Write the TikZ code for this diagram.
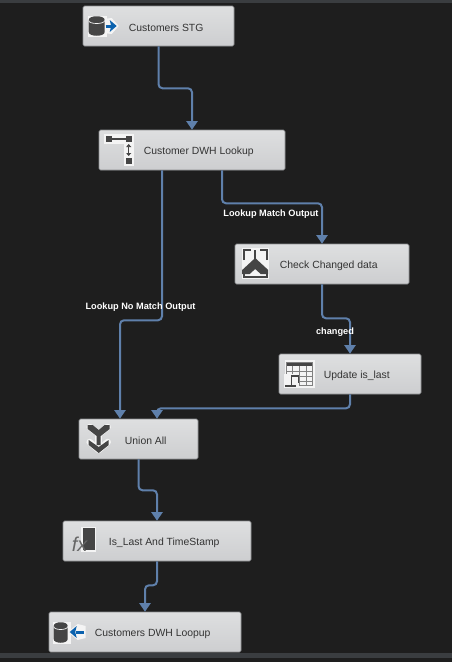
\documentclass[tikz,border=0pt]{standalone}
\usepackage{fontspec}
\setmainfont{Liberation Sans}
\usetikzlibrary{calc,positioning,arrows.meta}
\definecolor{panelbg}{HTML}{1E1E1E}
\definecolor{panelbar}{HTML}{3A3D40}
\definecolor{boxedge}{HTML}{8C8E90}
\definecolor{boxtop}{HTML}{DEDFE0}
\definecolor{boxbottom}{HTML}{CDCED0}
\definecolor{flowblue}{HTML}{5F80AB}
\definecolor{icondark}{HTML}{454545}
\definecolor{iconblue}{HTML}{0B62AE}
\definecolor{iconhalo}{HTML}{F4F4F4}
\tikzset{
  compbox/.style={draw=boxedge, line width=0.6pt, rounded corners=1.5pt, top color=boxtop, bottom color=boxbottom, minimum height=40pt, inner sep=0pt},
  boxtext/.style={inner sep=0pt, yshift=-1.5pt, text=black!80, font=\fontsize{10.4pt}{12pt}\selectfont},
  flow/.style={draw=flowblue, line width=2pt, rounded corners=4pt, -{Triangle[length=8.5pt,width=11pt]}},
  flowlabel/.style={inner sep=0pt, text=white, font=\fontsize{9.2pt}{11pt}\selectfont\bfseries},
}
\begin{document}
\begin{tikzpicture}[x=1pt,y=-1pt]
\useasboundingbox (0,0) rectangle (452,662);
\fill[panelbg] (0,0) rectangle (452,662);
\fill[panelbar] (0,0) rectangle (452,3);
\fill[panelbar] (0,653) rectangle (452,658);
% boxes
\node[compbox, minimum width=151pt] (stg) at (158.5,26) {};
\node[compbox, minimum width=186pt] (lookup) at (192,150) {};
\node[compbox, minimum width=174pt] (check) at (322,264) {};
\node[compbox, minimum width=142pt] (update) at (350,374) {};
\node[compbox, minimum width=119pt] (union) at (138.5,439) {};
\node[compbox, minimum width=188pt] (stamp) at (157,541) {};
\node[compbox, minimum width=192pt] (dwh) at (145,632) {};
% box texts
\node[boxtext, right=46pt of stg.west] (stgtext) {Customers STG};
\node[boxtext, right=45pt of lookup.west] (lookuptext) {Customer DWH Lookup};
\node[boxtext, right=45pt of check.west] (checktext) {Check Changed data};
\node[boxtext, right=45pt of update.west] (updatetext) {Update is\_last};
\node[boxtext, right=46pt of union.west] (uniontext) {Union All};
\node[boxtext, right=46pt of stamp.west] (stamptext) {Is\_Last And TimeStamp};
\node[boxtext, right=46pt of dwh.west] (dwhtext) {Customers DWH Loopup};
% connectors
\draw[flow] (stg.south) -- ++(0,42) -| (lookup.north);
\draw[flow] ($(lookup.south)+(-30,0)$) -- ++(0,150) -| ($(union.north)+(-18.5,0)$);
\draw[flow] ($(lookup.south)+(30,0)$) -- ++(0,33) -| (check.north);
\draw[flow] (check.south) -- ++(0,34) -| (update.north);
\draw[flow] (update.south) -- ++(0,14) -| ($(union.north)+(18.5,0)$);
\draw[flow] (union.south) -- ++(0,31) -| (stamp.north);
\draw[flow] (stamp.south) -- ++(0,24) -| (dwh.north);
% connector labels
\node[flowlabel] (matchlabel) at (271,214) {Lookup Match Output};
\node[flowlabel] (nomatchlabel) at (140.5,307) {Lookup No Match Output};
\node[flowlabel] (changedlabel) at (335,332) {changed};
% source icon
\begin{scope}[shift={(stg.west)}]
\fill[iconhalo] (5,-10.5) rectangle (24,10.5);
\fill[iconhalo] (21,-7) -- (29,-8) -- (36,0) -- (29,8) -- (21,7) -- cycle;
\fill[icondark] (6,-6) .. controls (6,-11) and (22,-11) .. (22,-6) -- (22,6) .. controls (22,11) and (6,11) .. (6,6) -- cycle;
\draw[iconhalo, line width=0.7pt] (6,-5.5) .. controls (6,-1.5) and (22,-1.5) .. (22,-5.5);
\draw[iconblue, line width=3pt] (23,0) -- (30,0);
\fill[iconblue] (27,-6) -- (34,0) -- (27,6) -- (28.5,0) -- cycle;
\end{scope}
% lookup icon
\begin{scope}[shift={(lookup.west)}]
\fill[iconhalo] (5,-16) rectangle (35,-6);
\fill[iconhalo] (25,-16) rectangle (35,16);
\draw[icondark, line width=1.2pt] (10,-11) -- (30,-11);
\fill[icondark] (7,-14) rectangle (13,-8);
\fill[icondark] (27,-14) rectangle (33,-8);
\fill[icondark] (27,8) rectangle (33,14);
\draw[icondark, line width=1pt, {Triangle[length=3pt,width=5pt]}-{Triangle[length=3pt,width=5pt]}] (30,-6) -- (30,6);
\end{scope}
% split icon
\begin{scope}[shift={(check.west)}]
\fill[iconhalo] (7,-16) rectangle (34,15);
\draw[icondark, line width=1.6pt] (9,-4) -- (9,-14) -- (16,-14);
\draw[icondark, line width=1.6pt] (32,-4) -- (32,-14) -- (25,-14);
\draw[icondark, line width=2pt] (20.5,-14) -- (20.5,-3);
\fill[icondark] (7.5,6) -- (20.5,-6) -- (33.5,6) -- (33.5,10) -- (26,10) -- (20.5,5) -- (15,10) -- (7.5,10) -- cycle;
\draw[icondark, line width=1.6pt] (9,10) -- (9,13) -- (32,13) -- (32,10);
\end{scope}
% update icon
\begin{scope}[shift={(update.west)}]
\fill[iconhalo] (6,-14) rectangle (36,14);
\fill[icondark] (8,-12) rectangle (34,-8);
\draw[black!50, line width=0.8pt] (8,-12) rectangle (34,11);
\foreach \gx in {14,21,28} \draw[black!50, line width=0.8pt] (\gx,-8) -- (\gx,11);
\foreach \gy in {-3,2,7} \draw[black!50, line width=0.8pt] (8,\gy) -- (34,\gy);
\fill[iconhalo] (5,0) rectangle (20,14);
\draw[icondark, line width=1.3pt] (20,2) -- (13,2) -- (13,11);
\draw[icondark, line width=1pt] (20,2) -- (20,9);
\fill[icondark] (6,10.5) rectangle (17,13);
\end{scope}
% union icon
\begin{scope}[shift={(union.west)}]
\draw[iconhalo, line width=6.5pt, line join=round, line cap=round] (11,-12) -- (20,-5) -- (29,-12);
\draw[iconhalo, line width=7pt] (20,-5) -- (20,8);
\draw[iconhalo, line width=6.5pt, line join=round, line cap=round] (11,3) -- (20,11) -- (29,3);
\fill[icondark] (9,-14) -- (14,-14) -- (20,-9) -- (26,-14) -- (31,-14) -- (31,-10) -- (22,-3) -- (22,6) -- (18,6) -- (18,-3) -- (9,-10) -- cycle;
\fill[icondark] (10,1) -- (20,8) -- (30,1) -- (30,6) -- (20,14) -- (10,6) -- cycle;
\end{scope}
% derived column icon
\begin{scope}[shift={(stamp.west)}]
\fill[iconhalo] (18.5,-14.5) rectangle (33.5,10.5);
\fill[icondark] (20,-13) rectangle (32,9);
\node[inner sep=0pt, text=black!60, font=\fontsize{20pt}{20pt}\selectfont\rmfamily\itshape] (fxglyph) at (17,3.5) {fx};
\end{scope}
% destination icon
\begin{scope}[shift={(dwh.west)}]
\fill[iconhalo] (4,-10.5) rectangle (22,12);
\fill[iconhalo] (19,0) -- (29,-8) -- (37,-6) -- (37,6) -- (29,8) -- cycle;
\fill[icondark] (5,-6) .. controls (5,-11) and (19,-11) .. (19,-6) -- (19,7) .. controls (19,12) and (5,12) .. (5,7) -- cycle;
\draw[iconhalo, line width=0.7pt] (5,-5.5) .. controls (5,-1.5) and (19,-1.5) .. (19,-5.5);
\draw[iconblue, line width=3pt] (27,0) -- (35,0);
\fill[iconblue] (28,-6) -- (21,0) -- (28,6) -- (26.5,0) -- cycle;
\end{scope}
\end{tikzpicture}
\end{document}
